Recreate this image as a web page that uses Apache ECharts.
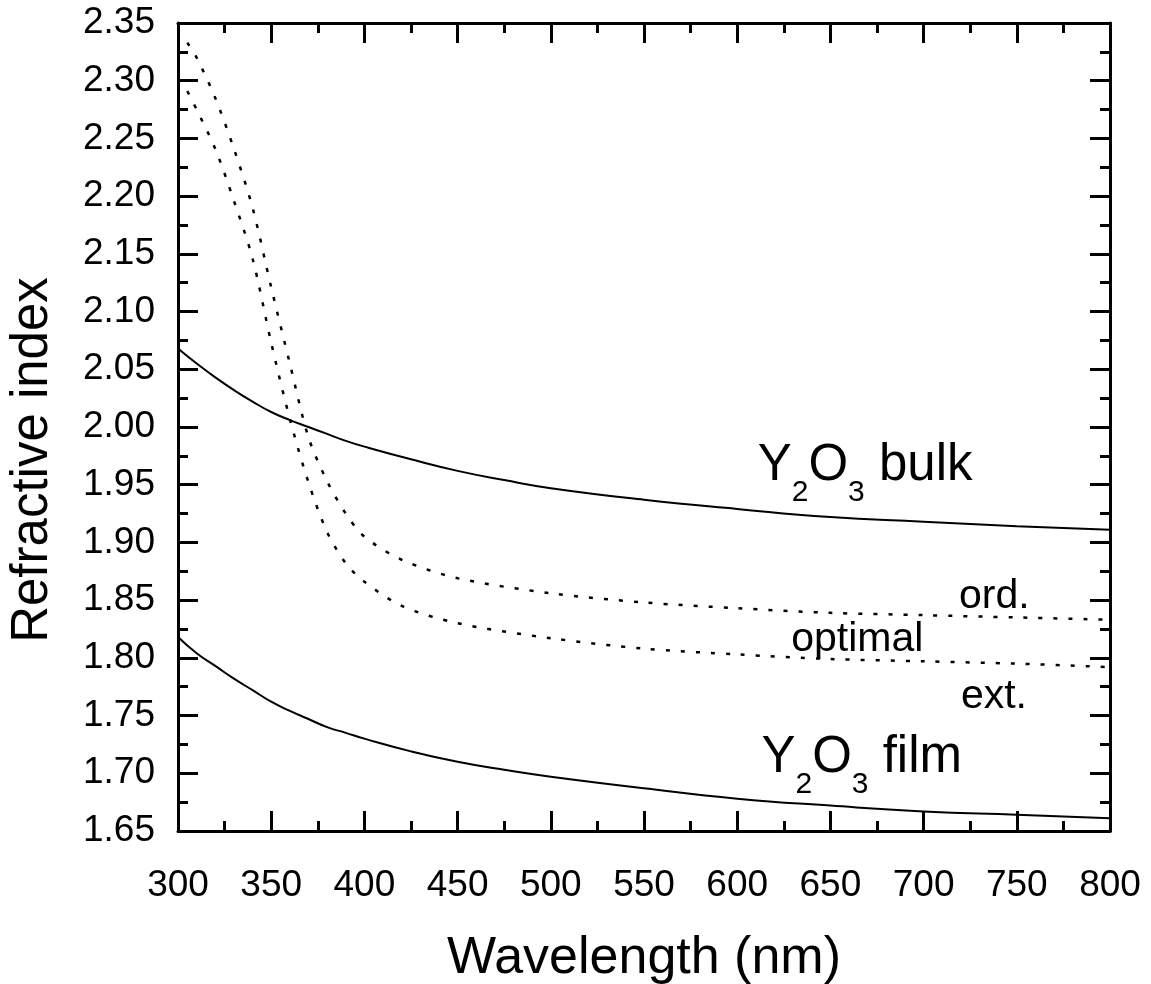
<!DOCTYPE html>
<html>
<head>
<meta charset="utf-8">
<script src="https://cdn.jsdelivr.net/npm/echarts@6/dist/echarts.min.js"></script>
<style>
  html, body { margin: 0; padding: 0; background: #fff; }
  #chart { width: 1151px; height: 984px; }
</style>
</head>
<body>
<div id="chart"></div>
<script>
// wavelengths (nm) for the two solid curves
const wlSolid = [300, 310, 320, 330, 340, 350, 360, 370, 380, 390, 400, 425, 450, 475, 500, 550, 600, 650, 700, 750, 800]
const bulk = [2.068, 2.055, 2.043, 2.032, 2.022, 2.013, 2.006, 2.000, 1.994, 1.988, 1.983, 1.972, 1.962, 1.954, 1.947, 1.937, 1.929, 1.922, 1.918, 1.914, 1.911]
const film = [1.818, 1.804, 1.793, 1.782, 1.772, 1.762, 1.754, 1.747, 1.740, 1.735, 1.730, 1.719, 1.710, 1.703, 1.697, 1.687, 1.678, 1.672, 1.667, 1.664, 1.661]

// wavelengths (nm) for the dotted curves
const wlDotted = [305, 310, 320, 330, 340, 350, 360, 370, 380, 390, 400, 420, 450, 500, 550, 600, 650, 700, 750, 800]
const ordinary = [2.333, 2.320, 2.285, 2.241, 2.190, 2.121, 2.055, 1.991, 1.953, 1.925, 1.905, 1.885, 1.869, 1.856, 1.848, 1.843, 1.839, 1.837, 1.835, 1.833]
const extraordinary = [2.291, 2.275, 2.241, 2.196, 2.146, 2.073, 2.007, 1.952, 1.909, 1.882, 1.866, 1.845, 1.830, 1.817, 1.808, 1.803, 1.799, 1.797, 1.795, 1.792]

const FONT = '"Liberation Sans", Arial, Helvetica, sans-serif'

const pairs = (xs, ys) => xs.map((x, i) => [x, ys[i]])

const chart = echarts.init(document.getElementById('chart'))

const xBase = {
  type: 'value',
  min: 300,
  max: 800,
  interval: 50,
  splitLine: { show: false },
  axisLine: { show: true, onZero: false, lineStyle: { color: '#000', width: 3 } },
  axisTick: { show: true, inside: true, length: 20, lineStyle: { color: '#000', width: 3 } },
  minorTick: { show: true, splitNumber: 2, length: 10, lineStyle: { color: '#000', width: 3 } },
  minorSplitLine: { show: false }
}
const yBase = {
  type: 'value',
  min: 1.65,
  max: 2.35,
  interval: 0.05,
  splitLine: { show: false },
  axisLine: { show: true, onZero: false, lineStyle: { color: '#000', width: 3 } },
  axisTick: { show: true, inside: true, length: 20, lineStyle: { color: '#000', width: 3 } },
  minorTick: { show: true, splitNumber: 2, length: 10, lineStyle: { color: '#000', width: 3 } },
  minorSplitLine: { show: false }
}

chart.setOption({
  animation: false,
  backgroundColor: '#fff',
  grid: { left: 178, right: 41, top: 23, bottom: 153, containLabel: false, outerBoundsMode: 'none' },
  xAxis: [
    Object.assign({}, xBase, {
      position: 'bottom',
      name: 'Wavelength (nm)',
      nameLocation: 'middle',
      nameGap: 102,
      nameTextStyle: { color: '#000', fontSize: 52, fontFamily: FONT },
      axisLabel: { color: '#000', fontSize: 37, fontFamily: FONT, margin: 36 }
    }),
    Object.assign({}, xBase, { position: 'top', axisLabel: { show: false } })
  ],
  yAxis: [
    Object.assign({}, yBase, {
      position: 'left',
      name: 'Refractive index',
      nameLocation: 'middle',
      nameGap: 120,
      nameTextStyle: { color: '#000', fontSize: 51, fontFamily: FONT, padding: [0, 66, 0, 0] },
      axisLabel: {
        color: '#000', fontSize: 37, fontFamily: FONT, margin: 23,
        formatter: v => v.toFixed(2)
      }
    }),
    Object.assign({}, yBase, { position: 'right', axisLabel: { show: false } })
  ],
  series: [
    {
      name: 'bulk', type: 'line', data: pairs(wlSolid, bulk),
      smooth: 0.5, showSymbol: false, lineStyle: { color: '#000', width: 2 }
    },
    {
      name: 'film', type: 'line', data: pairs(wlSolid, film),
      smooth: 0.5, showSymbol: false, lineStyle: { color: '#000', width: 2 }
    },
    {
      name: 'ord.', type: 'line', data: pairs(wlDotted, ordinary),
      smooth: 0.3, showSymbol: false, lineStyle: { color: '#000', width: 2.5, type: [4, 11] }
    },
    {
      name: 'ext.', type: 'line', data: pairs(wlDotted, extraordinary),
      smooth: 0.3, showSymbol: false, lineStyle: { color: '#000', width: 2.5, type: [4, 11] }
    }
  ]
})

// text labels placed at data coordinates
const at = (x, y) => chart.convertToPixel({ xAxisIndex: 0, yAxisIndex: 0 }, [x, y])
const plain = (txt, pos) => {
  const p = at(pos[0], pos[1])
  return {
    type: 'text', x: p[0], y: p[1],
    style: { text: txt, fill: '#000', fontSize: 41, fontFamily: FONT, textAlign: 'left', textVerticalAlign: 'middle' }
  }
}
const formula = (txt, pos) => {
  const p = at(pos[0], pos[1])
  return {
    type: 'text', x: p[0], y: p[1],
    style: {
      text: '{a|Y}{s|2}{a|O}{s|3}{a| ' + txt + '}',
      textAlign: 'left', textVerticalAlign: 'top',
      rich: {
        a: { fill: '#000', fontSize: 51, fontFamily: FONT, lineHeight: 58, verticalAlign: 'top' },
        s: { fill: '#000', fontSize: 30, fontFamily: FONT, lineHeight: 30, padding: [37, 0, 0, 0], verticalAlign: 'top' }
      }
    }
  }
}

chart.setOption({
  graphic: [
    formula('bulk', [611, 1.988]),
    formula('film', [613, 1.735]),
    plain('ord.', [719, 1.853]),
    plain('optimal', [629, 1.816]),
    plain('ext.', [720, 1.766])
  ]
})
</script>
</body>
</html>
